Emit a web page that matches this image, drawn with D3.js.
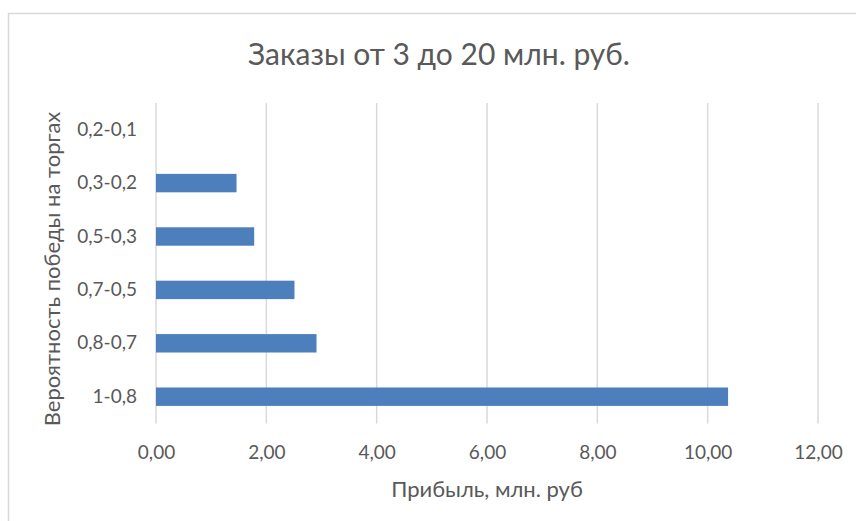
<!DOCTYPE html>
<html>
<head>
<meta charset="utf-8">
<script src="https://cdn.jsdelivr.net/npm/d3@7"></script>
<style>
  body { margin: 0; background: #fff; }
  text { font-family: Lato, "Open Sans", sans-serif; fill: #595959; }
</style>
</head>
<body>
<div id="chart"></div>
<script>
// data
var categories = ["0,2-0,1", "0,3-0,2", "0,5-0,3", "0,7-0,5", "0,8-0,7", "1-0,8"];
var profits = [0, 1.46, 1.78, 2.51, 2.91, 10.37];
var xTicks = [0, 2, 4, 6, 8, 10, 12];
var titleText = "Заказы от 3 до 20 млн. руб.";
var xTitle = "Прибыль, млн. руб";
var yTitle = "Вероятность победы на торгах";

var width = 856, height = 521;
var plot = {left: 156, right: 818, top: 103, bottom: 423.4};

var ru = d3.formatLocale({decimal: ",", thousands: " ", grouping: [3], currency: ["", ""]});
var fmt = ru.format(".2f");

var svg = d3.select("#chart").append("svg")
    .attr("width", width)
    .attr("height", height);

// chart frame (only top and left edges visible in the crop)
svg.append("rect")
    .attr("x", 8.5).attr("y", 13.5)
    .attr("width", width + 20).attr("height", height + 20)
    .attr("fill", "#fff")
    .attr("stroke", "#d9d9d9")
    .attr("stroke-width", 1.5);

var x = d3.scaleLinear()
    .domain([0, 12])
    .range([plot.left, plot.right]);

var y = d3.scaleBand()
    .domain(categories)
    .range([plot.top, plot.bottom])
    .paddingInner(0.655)
    .paddingOuter(0.3275);

// gridlines
svg.append("g").selectAll("line")
    .data(xTicks)
    .enter().append("line")
    .attr("x1", function(d) { return x(d); })
    .attr("x2", function(d) { return x(d); })
    .attr("y1", plot.top)
    .attr("y2", plot.bottom)
    .attr("stroke", "#d9d9d9")
    .attr("stroke-width", 1.5);

// bars
svg.append("g").selectAll("rect")
    .data(categories)
    .enter().append("rect")
    .attr("x", x(0))
    .attr("y", function(d) { return y(d); })
    .attr("width", function(d, i) { return x(profits[i]) - x(0); })
    .attr("height", y.bandwidth())
    .attr("fill", "#4e7fbd");

// x axis labels
var xAxis = d3.axisBottom(x).tickValues(xTicks).tickFormat(fmt).tickSize(0).tickPadding(22);
var gx = svg.append("g")
    .attr("transform", "translate(0," + plot.bottom + ")")
    .call(xAxis);
gx.select(".domain").remove();
gx.selectAll("text").style("font-size", "19px").attr("fill", "#595959");

// y axis labels
var yAxis = d3.axisLeft(y).tickSize(0).tickPadding(19);
var gy = svg.append("g")
    .attr("transform", "translate(" + plot.left + ",0)")
    .call(yAxis);
gy.select(".domain").remove();
gy.selectAll("text").style("font-size", "19px").attr("fill", "#595959");

// titles
svg.append("text")
    .attr("x", 439).attr("y", 65)
    .attr("text-anchor", "middle")
    .style("font-size", "30px")
    .text(titleText);

svg.append("text")
    .attr("x", (plot.left + plot.right) / 2).attr("y", 497)
    .attr("text-anchor", "middle")
    .style("font-size", "22px")
    .text(xTitle);

svg.append("text")
    .attr("transform", "translate(60," + 269 + ") rotate(-90)")
    .attr("text-anchor", "middle")
    .style("font-size", "22px")
    .text(yTitle);
</script>
</body>
</html>
